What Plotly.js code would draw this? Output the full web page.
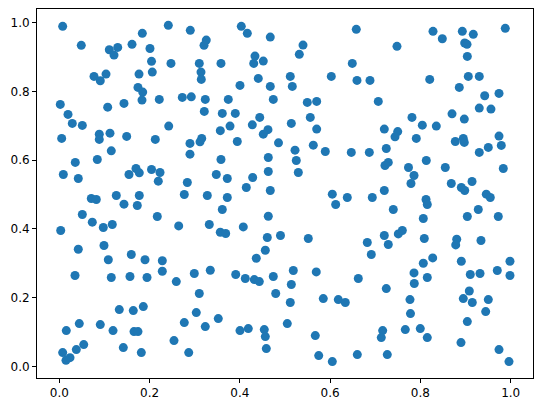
<!DOCTYPE html>
<html>
<head>
<meta charset="utf-8">
<script src="https://cdn.plot.ly/plotly-3.0.1.min.js"></script>
<style>html,body{margin:0;padding:0;background:#fff;}#chart{width:554px;height:411px;}</style>
</head>
<body>
<div id="chart"></div>
<script>
const xValues = [
0.0075,0.0487,0.1108,0.1294,0.1212,0.1611,0.1839,0.2009,0.2043,0.0769,0.0908,0.1035,0.1766,0.2060,0.1743,0.1848,0.1832,0.0022,0.0193,0.0288,0.0510,0.1072,0.1433,
0.2415,0.2902,0.3256,0.3206,0.4032,0.4165,0.4674,0.2474,0.3101,0.3582,0.3139,0.3146,0.4335,0.4307,0.4519,0.4408,0.4003,0.4674,0.4741,0.2215,0.2725,0.2924,0.3234,0.3744,0.3212,0.3611,0.3899,0.4440,0.4276,0.2424,0.3782,0.3567,0.4623,
0.6579,0.5399,0.5317,0.7481,0.6491,0.5117,0.5162,0.6026,0.6595,0.6883,0.5494,0.5702,0.7067,0.5560,0.5140,0.5702,0.7200,0.7813,
0.8279,0.8485,0.8928,0.9171,0.9880,0.8981,0.9032,0.9039,0.8206,0.9061,0.9304,0.8861,0.9424,0.9741,0.8700,0.8972,0.9304,0.9563,0.8042,0.8352,
0.0053,0.0886,0.1123,0.0886,0.1493,0.1152,0.0354,0.0842,0.0089,0.0421,0.1544,0.1699,0.1772,0.2043,0.0709,0.0820,0.1263,0.1433,0.1772,0.1728,0.0510,0.0731,0.0975,0.1174,0.0031,0.0421,0.0990,0.1595,0.1086,0.1899,
0.2127,0.2895,0.3117,0.3155,0.2895,0.4519,0.4856,0.3943,0.3582,0.4630,0.2231,0.2193,0.2836,0.3478,0.3722,0.4284,0.4630,0.4143,0.4674,0.2769,0.3279,0.3722,0.3611,0.2171,0.2645,0.3323,0.3567,0.3686,0.4076,0.4630,0.4608,0.4900,0.4564,0.4364,0.2282,
0.7497,0.7437,0.5222,0.5250,0.5295,0.5627,0.5893,0.6469,0.6868,0.7244,0.7288,0.7215,0.7736,0.7858,0.7791,0.6048,0.6123,0.6380,0.6934,0.7200,0.7399,0.5516,0.6823,0.6912,0.7200,0.7288,0.7510,0.7599,
0.7909,0.8773,0.8950,0.8972,0.9304,0.9504,0.9741,0.9792,0.8130,0.8551,0.9836,0.8684,0.8906,0.8981,0.9143,0.9459,0.9548,0.8124,0.8152,0.9282,0.9039,0.9725,0.8064,0.8086,0.8804,0.8782,0.9342,0.8064,0.8272,0.8906,0.9984,
0.0348,0.1152,0.1566,0.1943,0.1329,0.1639,0.1861,0.0155,0.0443,0.0908,0.1190,0.1655,0.1743,0.0075,0.0237,0.0148,0.0377,0.0541,0.1418,0.1817,
0.2282,0.2592,0.2991,0.3345,0.3101,0.3908,0.4120,0.4320,0.4431,0.4741,0.4794,0.3035,0.2769,0.3234,0.3522,0.2541,0.2867,0.4003,0.4187,0.4541,0.4564,0.4586,
0.5184,0.5693,0.6624,0.5140,0.5117,0.5848,0.6181,0.6336,0.7244,0.7769,0.7780,0.5051,0.5671,0.7164,0.7133,0.7665,0.5747,0.6048,0.6602,0.7266,
0.7858,0.7864,0.8152,0.9105,0.9320,0.9703,0.9984,0.9083,0.8950,0.9149,0.9504,0.9446,0.9039,0.7997,0.8152,0.8899,0.9741,0.9962
];
const yValues = [
0.9895,0.9342,0.9214,0.9283,0.9059,0.9371,0.9691,0.9249,0.8876,0.8439,0.8311,0.8506,0.8506,0.8564,0.8118,0.7981,0.7748,0.7623,0.7332,0.7070,0.7011,0.7544,0.7652,
0.9924,0.9779,0.9496,0.9342,0.9895,0.9691,0.9583,0.8817,0.8817,0.8817,0.8564,0.8351,0.9030,0.8817,0.8884,0.8380,0.8177,0.8147,0.7769,0.7769,0.7827,0.7844,0.7769,0.7769,0.7419,0.7361,0.7361,0.7244,0.7029,0.6991,0.6991,0.6860,0.6889,
0.9808,0.9350,0.9080,0.9313,0.8817,0.8439,0.8147,0.8439,0.8322,0.8322,0.7681,0.7710,0.7710,0.7244,0.7070,0.6904,0.6904,0.7244,
0.9749,0.9534,0.9749,0.9662,0.9837,0.9409,0.9371,0.9021,0.8351,0.8439,0.8439,0.8118,0.7874,0.7944,0.7349,0.7195,0.7515,0.7486,0.7020,0.6991,
0.6633,0.6758,0.6787,0.6604,0.6691,0.6271,0.5934,0.6021,0.5584,0.5468,0.5584,0.5759,0.5631,0.5730,0.4885,0.4856,0.4972,0.4719,0.4972,0.4681,0.4419,0.4195,0.4040,0.4128,0.3953,0.3408,0.3516,0.3254,0.3102,0.3102,
0.6604,0.6487,0.6534,0.6633,0.6175,0.6758,0.6505,0.6545,0.6021,0.6079,0.5642,0.5389,0.5351,0.5584,0.5468,0.5497,0.5671,0.5205,0.5118,0.5001,0.4972,0.4914,0.4565,0.4361,0.4087,0.4128,0.3903,0.3865,0.4058,0.4369,0.3749,0.3807,0.3379,0.3146,0.3073,
0.6831,0.6679,0.6292,0.5992,0.5642,0.6437,0.6254,0.6225,0.6225,0.6341,0.5934,0.5846,0.5788,0.5555,0.5322,0.5010,0.4710,0.4914,0.4914,0.5118,0.4565,0.3720,0.3603,0.3254,0.3807,0.3545,0.3854,0.3953,
0.6633,0.6545,0.6633,0.6516,0.6225,0.6371,0.6700,0.6429,0.5992,0.5788,0.5759,0.5322,0.5205,0.5118,0.5380,0.5010,0.4914,0.4856,0.4710,0.4565,0.4361,0.4361,0.4302,0.3720,0.3699,0.3533,0.3662,0.3000,0.3155,0.3059,0.3059,
0.2642,0.2584,0.2613,0.2584,0.1652,0.1622,0.1739,0.1040,0.1244,0.1215,0.1040,0.1011,0.1011,0.0399,0.0253,0.0175,0.0486,0.0632,0.0545,0.0399,
0.2767,0.2467,0.2700,0.2796,0.2118,0.2671,0.2555,0.2525,0.2467,0.2613,0.2118,0.1564,0.1273,0.1156,0.1389,0.0749,0.0399,0.1040,0.1098,0.1069,0.0865,0.0516,
0.2788,0.2747,0.2555,0.2380,0.1856,0.1972,0.1943,0.1856,0.2263,0.1943,0.1535,0.1244,0.0894,0.1040,0.0836,0.1069,0.0312,0.0137,0.0341,0.0341,
0.2718,0.2409,0.2584,0.2671,0.2700,0.2788,0.2642,0.2193,0.1972,0.1856,0.1943,0.1593,0.1302,0.1098,0.0836,0.0690,0.0486,0.0137
];
const tickValues = [0, 0.2, 0.4, 0.6, 0.8, 1.0];
const tickLabels = ["0.0", "0.2", "0.4", "0.6", "0.8", "1.0"];

const axisCommon = {
  showgrid: false, zeroline: false, showline: true, mirror: true,
  linecolor: '#000', linewidth: 1,
  ticks: 'outside', ticklen: 4, tickwidth: 1, tickcolor: '#000',
  tickvals: tickValues, ticktext: tickLabels,
  tickfont: {family: 'DejaVu Sans', size: 12, color: '#000'}
};

Plotly.newPlot('chart', [{
  type: 'scatter', mode: 'markers', x: xValues, y: yValues,
  marker: {color: '#1f77b4', size: 9, line: {width: 0}},
  hoverinfo: 'none'
}], {
  width: 554, height: 411,
  margin: {l: 37, r: 21, t: 9, b: 33},
  paper_bgcolor: '#fff', plot_bgcolor: '#fff',
  showlegend: false,
  xaxis: Object.assign({}, axisCommon, {range: [-0.0494, 1.0494]}),
  yaxis: Object.assign({}, axisCommon, {range: [-0.034, 1.040]})
}, {staticPlot: true, displayModeBar: false});
</script>
</body>
</html>
